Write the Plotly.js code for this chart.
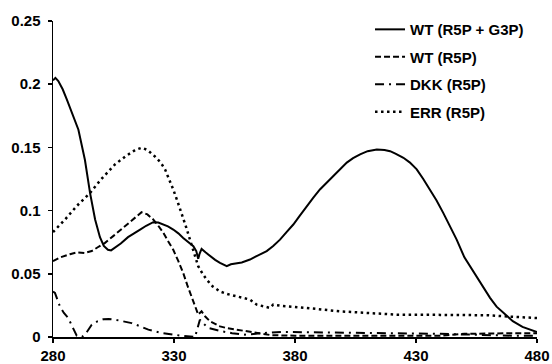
<!DOCTYPE html>
<html>
<head>
<meta charset="utf-8">
<script src="https://cdn.plot.ly/plotly-3.0.1.min.js"></script>
<style>html,body{margin:0;padding:0;background:#fff;}#chart{width:552px;height:364px;}</style>
</head>
<body>
<div id="chart"></div>
<script>
// Series names
const seriesNames = ["WT (R5P + G3P)", "WT (R5P)", "DKK (R5P)", "ERR (R5P)"];

// X tick values (wavelength, nm)
const xTicks = [280, 330, 380, 430, 480];
const yTicks = [0, 0.05, 0.1, 0.15, 0.2, 0.25];

// WT (R5P + G3P) - solid
const wlWtG3p = [280, 281, 282.2, 284, 285.7, 288, 290.5, 293.2, 295.3, 297.4, 299.4, 301, 302.7, 304, 305.6, 308, 311, 314, 316, 318.5, 321.4, 323.5, 325.6, 327.5, 329.7, 331.8, 333.8, 336, 338, 339.2, 340, 340.6, 341.4, 343, 344.9, 347, 349, 351.8, 353.5, 355.9, 358, 361.4, 364, 366, 368.3, 371, 373.8, 376.5, 379.3, 382, 384.8, 387.5, 390.3, 393, 395.8, 398.5, 401.4, 404, 406.9, 410, 413.8, 417, 419.3, 421.5, 424.8, 427.5, 430.3, 433, 435.8, 438.5, 441.3, 444, 446.8, 450, 452.3, 455.1, 457.8, 460.6, 463.3, 466.8, 470, 474, 477.1, 480];
const absWtG3p = [0.203, 0.205, 0.2025, 0.196, 0.188, 0.177, 0.164, 0.140, 0.114, 0.093, 0.079, 0.072, 0.069, 0.0685, 0.0705, 0.074, 0.079, 0.083, 0.085, 0.088, 0.0908, 0.0905, 0.089, 0.0875, 0.085, 0.082, 0.0784, 0.075, 0.0718, 0.068, 0.062, 0.066, 0.0697, 0.067, 0.064, 0.061, 0.0586, 0.056, 0.0575, 0.0586, 0.059, 0.0613, 0.064, 0.0655, 0.068, 0.072, 0.077, 0.083, 0.089, 0.096, 0.1035, 0.110, 0.1167, 0.122, 0.127, 0.1325, 0.138, 0.1415, 0.1445, 0.147, 0.1484, 0.148, 0.147, 0.145, 0.1418, 0.138, 0.1326, 0.125, 0.1167, 0.108, 0.098, 0.088, 0.077, 0.063, 0.056, 0.047, 0.039, 0.031, 0.024, 0.0177, 0.0125, 0.008, 0.0058, 0.004];

// WT (R5P) - dashed
const wlWt = [280, 283, 287, 290, 293.2, 296, 298.5, 301.5, 305, 309.8, 313, 316.6, 319, 321.4, 323.5, 325.6, 327.5, 329.7, 331.8, 333.8, 335.5, 337.3, 338.8, 340, 341.4, 343, 344.9, 347, 349, 352, 355.9, 360, 365, 370, 380, 400, 420, 440, 450, 460, 470, 480];
const absWt = [0.060, 0.063, 0.0655, 0.067, 0.0665, 0.068, 0.071, 0.0745, 0.080, 0.0876, 0.093, 0.0987, 0.097, 0.093, 0.088, 0.0824, 0.076, 0.069, 0.060, 0.0507, 0.041, 0.032, 0.024, 0.0177, 0.0203, 0.016, 0.0124, 0.010, 0.0084, 0.007, 0.0058, 0.004, 0.0025, 0.0015, 0.001, 0.0008, 0.0008, 0.001, 0.0025, 0.003, 0.003, 0.003];

// DKK (R5P) - dash-dot
const wlDkk = [280, 280.8, 282.9, 284.5, 286.3, 288, 289.8, 292, 294, 296, 298.5, 300.8, 303, 305.6, 309, 312.5, 316, 319.4, 324.9, 329, 333.2, 338.7, 339.7, 340.7, 342.5, 344.2, 349.7, 354, 359.3, 366, 375, 390, 405, 420, 440, 455, 470, 480];
const absDkk = [0.036, 0.0349, 0.024, 0.019, 0.015, 0.008, 0.001, 0, 0.004, 0.0097, 0.0125, 0.014, 0.0142, 0.0137, 0.0125, 0.011, 0.0085, 0.0058, 0.0032, 0.002, 0.001, 0, 0.006, 0.0137, 0.010, 0.0071, 0.0045, 0.003, 0.0018, 0.003, 0.004, 0.0035, 0.003, 0.003, 0.0025, 0.0015, 0.001, 0.001];

// ERR (R5P) - dotted
const wlErr = [280, 285, 290, 295.3, 300, 305.6, 310, 314, 316.6, 319, 322, 324.5, 326.3, 328, 329.7, 331.5, 333.2, 335, 336.6, 338.3, 340, 341.8, 343.5, 346, 349, 352, 355.9, 361.4, 364.2, 367, 369.7, 371, 375, 384.8, 398.6, 410, 422, 440, 460, 470, 480];
const absErr = [0.083, 0.093, 0.104, 0.114, 0.125, 0.1365, 0.143, 0.148, 0.1497, 0.148, 0.143, 0.138, 0.1326, 0.125, 0.1167, 0.107, 0.098, 0.087, 0.077, 0.066, 0.056, 0.050, 0.0454, 0.040, 0.036, 0.034, 0.032, 0.0296, 0.0256, 0.024, 0.023, 0.0256, 0.0245, 0.023, 0.0203, 0.019, 0.0177, 0.0175, 0.0172, 0.016, 0.015];

const FONT = "'Liberation Sans', Arial, sans-serif";

const traces = [
  {x: wlWtG3p, y: absWtG3p, name: seriesNames[0], legendgroup: "a",
   line: {color: "#000", width: 2, dash: "solid"}},
  {x: wlWt, y: absWt, name: seriesNames[1], legendgroup: "b",
   line: {color: "#000", width: 2, dash: "6px,3px"}},
  {x: wlDkk, y: absDkk, name: seriesNames[2], legendgroup: "c",
   line: {color: "#000", width: 2, dash: "9px,5px,2px,5px"}},
  {x: wlErr, y: absErr, name: seriesNames[3], legendgroup: "d",
   line: {color: "#000", width: 2.5, dash: "2.5px,3.5px"}}
].map(t => Object.assign({type: "scatter", mode: "lines", hoverinfo: "skip"}, t));

const layout = {
  width: 552, height: 364,
  margin: {l: 53, r: 15, t: 21, b: 27, pad: 0},
  paper_bgcolor: "#fff", plot_bgcolor: "#fff",
  font: {family: FONT, size: 15, color: "#000", weight: "bold"},
  showlegend: true,
  legend: {
    x: 0.655, y: 1.025, xanchor: "left", yanchor: "top",
    traceorder: "grouped", tracegroupgap: 5,
    font: {family: FONT, size: 15, color: "#000", weight: "bold"},
    bgcolor: "rgba(0,0,0,0)", borderwidth: 0
  },
  xaxis: {
    range: [280, 480], tickvals: xTicks, ticktext: xTicks.map(String),
    showgrid: false, zeroline: false, showline: true, linecolor: "#000", linewidth: 1.5,
    ticks: "outside", ticklen: 4, tickwidth: 1.5, tickcolor: "#000",
    tickfont: {family: FONT, size: 15, color: "#000", weight: "bold"}
  },
  yaxis: {
    range: [0, 0.25], tickvals: yTicks, ticktext: yTicks.map(String),
    showgrid: false, zeroline: false, showline: true, linecolor: "#000", linewidth: 1.5,
    ticks: "outside", ticklen: 4, tickwidth: 1.5, tickcolor: "#000",
    ticklabelstandoff: 4,
    tickfont: {family: FONT, size: 15, color: "#000", weight: "bold"}
  }
};

Plotly.newPlot("chart", traces, layout, {staticPlot: true, displayModeBar: false});
</script>
</body>
</html>
